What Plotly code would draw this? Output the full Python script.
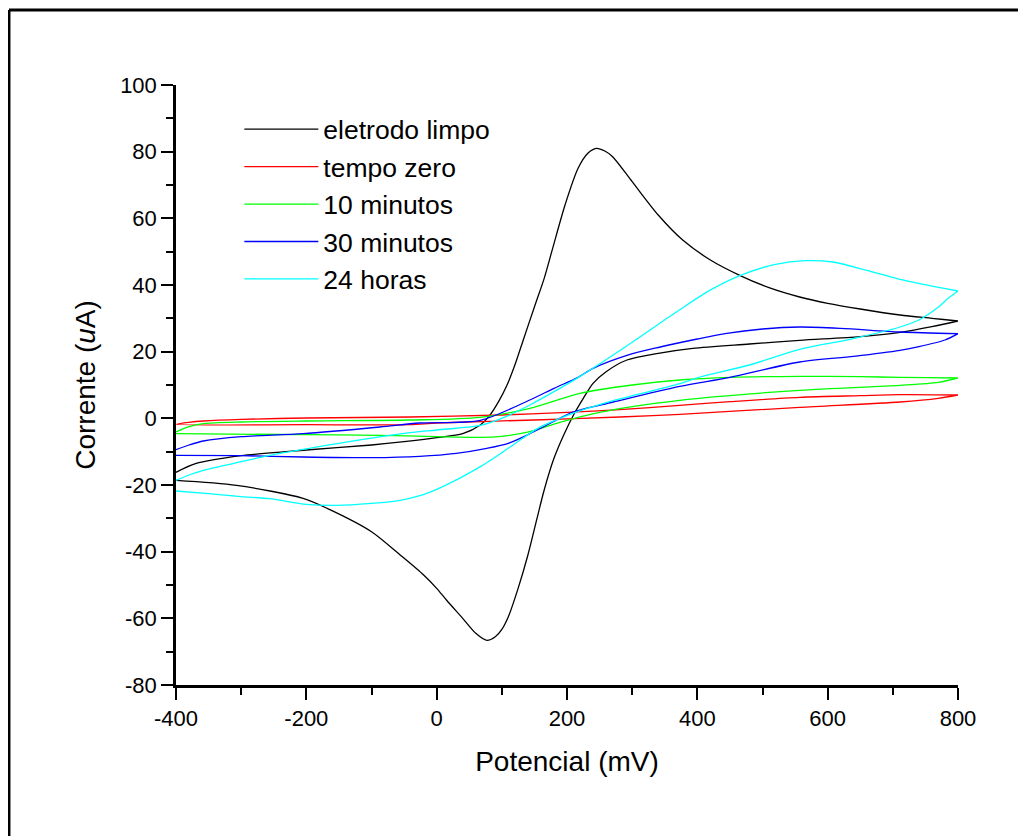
import plotly.graph_objects as go

# ---- data (potential in mV, current in uA) ----
series_names = ["eletrodo limpo", "tempo zero", "10 minutos", "30 minutos", "24 horas"]
series_colors = ["#000000", "#FF0000", "#00FF00", "#0000FF", "#00FFFF"]

# eletrodo limpo
limpo_fwd_E = [-400, -370, -300, -200, -100, -50, 0, 40, 67, 80, 95, 108, 120, 132, 151, 165, 178, 197, 217, 232, 245,
               258, 270, 300, 340, 378, 420, 465, 510, 557, 600, 650, 711, 760, 800]
limpo_fwd_I = [-16.2, -13.6, -11.2, -9.5, -8.0, -7.0, -5.8, -4.6, -2.0, 0.5, 5.0, 10.0, 16.0, 23.0, 34.0, 42.0, 51.0, 64.0, 75.0, 79.5, 81.0,
               80.2, 78.5, 71.0, 61.0, 53.4, 47.5, 42.9, 39.2, 36.4, 34.5, 32.8, 31.0, 30.0, 29.2]
limpo_rev_E = [800, 760, 711, 650, 557, 480, 393, 340, 292, 260, 240, 225, 210, 195, 180, 165, 154, 140, 125, 110,
               100, 90, 77, 60, 40, 15, 0, -20, -56, -100, -168, -205, -307, -400]
limpo_rev_I = [29.2, 27.5, 25.8, 24.5, 23.4, 22.3, 21.0, 19.5, 17.5, 14.0, 10.5, 6.0, 1.0, -5.0, -12.0, -21.5, -30.0, -41.0, -51.0, -59.5,
               -63.3, -65.5, -66.6, -64.5, -60.0, -54.5, -51.0, -47.0, -41.0, -34.0, -27.0, -24.0, -20.1, -18.6]

# tempo zero
zero_fwd_E = [-400, -380, -358, -300, -200, -41, 100, 200, 281, 373, 450, 557, 650, 711, 800]
zero_fwd_I = [-1.8, -1.2, -0.8, -0.3, 0.1, 0.4, 1.0, 1.8, 2.6, 3.9, 5.0, 6.3, 6.8, 7.1, 7.0]
zero_rev_E = [800, 770, 711, 557, 373, 281, 150, 0, -41, -200, -400]
zero_rev_I = [7.0, 6.0, 4.9, 3.3, 1.2, 0.4, -0.5, -1.4, -1.9, -1.9, -1.8]

# 10 minutos
min10_fwd_E = [-400, -380, -358, -300, -200, -41, 67, 143, 220, 300, 373, 450, 557, 650, 711, 800]
min10_fwd_I = [-4.1, -2.5, -1.6, -1.1, -0.8, -0.5, 0.3, 3.0, 7.5, 10.0, 11.5, 12.3, 12.6, 12.5, 12.3, 12.1]
min10_rev_E = [800, 770, 711, 557, 373, 250, 189, 143, 100, 67, 0, -87, -200, -400]
min10_rev_I = [12.1, 10.8, 9.9, 8.4, 5.4, 1.8, -1.2, -4.0, -5.4, -5.7, -5.5, -5.1, -4.9, -4.6]

# 30 minutos
min30_fwd_E = [-400, -380, -358, -300, -205, -87, -26, 67, 143, 180, 217, 240, 292, 343, 400, 445, 500, 557, 620, 711, 800]
min30_fwd_I = [-9.4, -8.0, -6.8, -5.5, -4.6, -2.6, -1.4, -0.6, 5.5, 9.0, 12.3, 15.0, 18.9, 21.4, 23.8, 25.5, 26.8, 27.4, 27.0, 25.9, 25.4]
min30_rev_E = [800, 780, 740, 711, 640, 557, 450, 373, 271, 209, 178, 143, 110, 77, 30, -26, -100, -205, -300, -400]
min30_rev_I = [25.4, 23.5, 21.5, 20.4, 18.6, 16.9, 12.3, 9.6, 4.9, 1.9, -1.1, -4.6, -7.5, -9.0, -10.5, -11.4, -11.8, -11.6, -11.2, -11.1]

# 24 horas
h24_fwd_E = [-400, -380, -358, -300, -256, -150, -41, 0, 67, 100, 143, 180, 215, 250, 300, 343, 373, 419, 470, 520, 565,
             608, 660, 711, 762, 800]
h24_fwd_I = [-18.6, -17.0, -15.6, -13.0, -11.1, -7.5, -4.3, -3.5, -2.1, 0.0, 4.0, 8.0, 12.0, 16.3, 22.8, 28.6, 32.6, 38.4, 43.2, 46.2, 47.3,
             46.9, 44.4, 41.7, 39.6, 38.2]
h24_rev_E = [800, 785, 770, 740, 711, 634, 557, 480, 404, 373, 271, 240, 209, 189, 160, 143, 128, 100, 67, 51, 25, 0, -26, -56,
             -100, -153, -200, -256, -300, -350, -400]
h24_rev_I = [38.2, 36.0, 33.4, 29.5, 27.4, 23.7, 20.7, 16.0, 12.4, 10.4, 5.3, 3.5, 1.5, 0.0, -2.5, -4.5, -6.5, -10.3, -14.5, -16.3, -19.0, -21.3, -23.2, -24.6,
             -25.5, -26.1, -25.8, -24.1, -23.5, -22.6, -21.8]

series_E = [limpo_fwd_E + limpo_rev_E, zero_fwd_E + zero_rev_E, min10_fwd_E + min10_rev_E,
            min30_fwd_E + min30_rev_E, h24_fwd_E + h24_rev_E]
series_I = [limpo_fwd_I + limpo_rev_I, zero_fwd_I + zero_rev_I, min10_fwd_I + min10_rev_I,
            min30_fwd_I + min30_rev_I, h24_fwd_I + h24_rev_I]

x_ticks = [-400, -200, 0, 200, 400, 600, 800]
y_ticks = [-80, -60, -40, -20, 0, 20, 40, 60, 80, 100]

FONT = "Liberation Sans, Arial, sans-serif"

fig = go.Figure()
for i, (name, color) in enumerate(zip(series_names, series_colors)):
    fig.add_trace(go.Scatter(
        x=series_E[i], y=series_I[i], mode="lines", name=name,
        line=dict(color=color, width=1.3, shape="spline", smoothing=0.8),
    ))

axis_common = dict(
    showgrid=False, zeroline=False, showline=True, linecolor="black", linewidth=2.5,
    ticks="outside", ticklen=12, tickwidth=2, tickcolor="black",
    tickfont=dict(family=FONT, size=22, color="black"),
    mirror=False,
)

fig.update_xaxes(
    range=[-400, 800], tickvals=x_ticks, ticktext=[str(v) for v in x_ticks],
    minor=dict(dtick=100, ticklen=7, tickwidth=2, tickcolor="black", ticks="outside", showgrid=False),
    title=dict(text="Potencial (mV)", font=dict(family=FONT, size=28, color="black"), standoff=22),
    **axis_common,
)
fig.update_yaxes(
    range=[-80, 100], tickvals=y_ticks, ticktext=[str(v) for v in y_ticks],
    minor=dict(dtick=10, ticklen=7, tickwidth=2, tickcolor="black", ticks="outside", showgrid=False),
    title=dict(text="Corrente (<i>u</i>A)", font=dict(family=FONT, size=28, color="black"), standoff=17),
    **axis_common,
)

# outer frame (top and left edges of the image border)
fig.add_shape(type="line", xref="paper", yref="paper", x0=-0.2136, x1=1.0767, y0=1.125, y1=1.125,
              line=dict(color="black", width=3))
fig.add_shape(type="line", xref="paper", yref="paper", x0=-0.2136, x1=-0.2136, y0=1.125, y1=-0.3,
              line=dict(color="black", width=3))

fig.update_layout(
    width=1019, height=828,
    margin=dict(l=168, r=69, t=77, b=151),
    plot_bgcolor="white", paper_bgcolor="white",
    showlegend=True,
    legend=dict(x=0.081, y=0.966, xanchor="left", yanchor="top",
                font=dict(family=FONT, size=26.5, color="black"),
                bgcolor="rgba(0,0,0,0)", itemwidth=74),
)

fig.write_html("out.html")
